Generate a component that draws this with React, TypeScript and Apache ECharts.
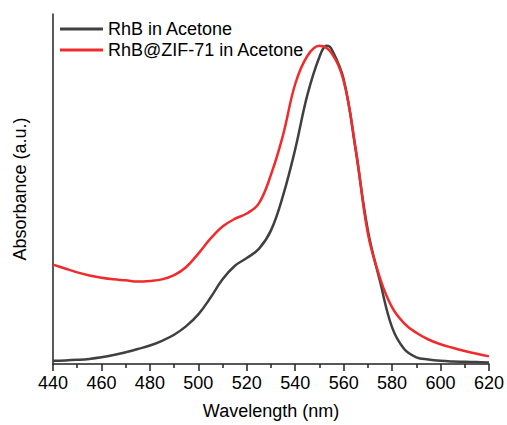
import React, { useEffect, useRef } from "react";
import * as echarts from "echarts";

const seriesNames = ["RhB in Acetone", "RhB@ZIF-71 in Acetone"];

const rhbWavelength = [440, 445, 450, 455, 460, 465, 470, 475, 480, 485, 490, 495, 500, 505, 510, 515, 520, 525, 530, 535, 540, 545, 550, 553, 555, 560, 565, 570, 575, 580, 585, 590, 595, 600, 605, 610, 615, 620];
const rhbAbs = [0.010, 0.011, 0.013, 0.016, 0.021, 0.028, 0.037, 0.047, 0.058, 0.073, 0.092, 0.119, 0.156, 0.208, 0.266, 0.308, 0.333, 0.362, 0.42, 0.53, 0.675, 0.845, 0.965, 1.0, 0.99, 0.895, 0.67, 0.42, 0.26, 0.115, 0.047, 0.021, 0.014, 0.010, 0.008, 0.007, 0.006, 0.005];

const zifWavelength = [440, 445, 450, 455, 460, 465, 470, 475, 480, 485, 490, 495, 500, 505, 510, 515, 520, 525, 530, 535, 540, 545, 550, 555, 560, 565, 570, 575, 580, 585, 590, 595, 600, 605, 610, 615, 620];
const zifAbs = [0.3125, 0.30, 0.288, 0.278, 0.271, 0.266, 0.263, 0.259, 0.261, 0.266, 0.279, 0.305, 0.347, 0.394, 0.432, 0.456, 0.473, 0.505, 0.595, 0.72, 0.88, 0.968, 1.0, 0.977, 0.89, 0.675, 0.41, 0.27, 0.178, 0.128, 0.098, 0.077, 0.062, 0.051, 0.041, 0.032, 0.024];

const colors = ["#404040", "#ef2b2d"];
const FONT = "'Liberation Sans', Arial, sans-serif";

export default function App() {
  const ref = useRef<HTMLDivElement>(null);
  useEffect(() => {
    if (!ref.current) return;
    const chart = echarts.init(ref.current, null, { renderer: "svg" });
    chart.setOption({
      animation: false,
      backgroundColor: "#ffffff",
      textStyle: { fontFamily: FONT },
      grid: { left: 53, right: 15, top: 14, bottom: 59 },
      legend: {
        orient: "vertical",
        left: 60,
        top: 20,
        padding: 0,
        icon: "rect",
        itemWidth: 43,
        itemHeight: 3,
        itemGap: 3,
        data: seriesNames,
        textStyle: { fontSize: 18, color: "#000", fontFamily: FONT },
      },
      xAxis: {
        type: "value",
        min: 440,
        max: 620,
        interval: 20,
        name: "Wavelength (nm)",
        nameLocation: "middle",
        nameGap: 38,
        nameTextStyle: { fontSize: 18, color: "#000", fontFamily: FONT },
        axisLine: { show: true, lineStyle: { color: "#222", width: 1.5 } },
        axisTick: { show: true, inside: false, length: 7, lineStyle: { color: "#222", width: 1.5 } },
        minorTick: { show: true, splitNumber: 2, length: 4, lineStyle: { color: "#222", width: 1.5 } },
        axisLabel: { fontSize: 18, color: "#000", margin: 10, fontFamily: FONT },
        splitLine: { show: false },
      },
      yAxis: {
        type: "value",
        min: 0,
        max: 1.1,
        name: "Absorbance (a.u.)",
        nameLocation: "middle",
        nameRotate: 90,
        nameGap: 24,
        nameTextStyle: { fontSize: 18, color: "#000", fontFamily: FONT },
        axisLine: { show: true, lineStyle: { color: "#222", width: 1.5 } },
        axisTick: { show: false },
        axisLabel: { show: false },
        splitLine: { show: false },
      },
      series: [
        {
          name: seriesNames[0],
          type: "line",
          smooth: 0.4,
          symbol: "none",
          data: rhbWavelength.map((w, i) => [w, rhbAbs[i]]),
          lineStyle: { color: colors[0], width: 2.5 },
          itemStyle: { color: colors[0] },
        },
        {
          name: seriesNames[1],
          type: "line",
          smooth: 0.4,
          symbol: "none",
          data: zifWavelength.map((w, i) => [w, zifAbs[i]]),
          lineStyle: { color: colors[1], width: 2.5 },
          itemStyle: { color: colors[1] },
        },
      ],
    });
    return () => chart.dispose();
  }, []);
  return <div ref={ref} style={{ width: 507, height: 425, position: "absolute", left: 0, top: 0 }} />;
}
